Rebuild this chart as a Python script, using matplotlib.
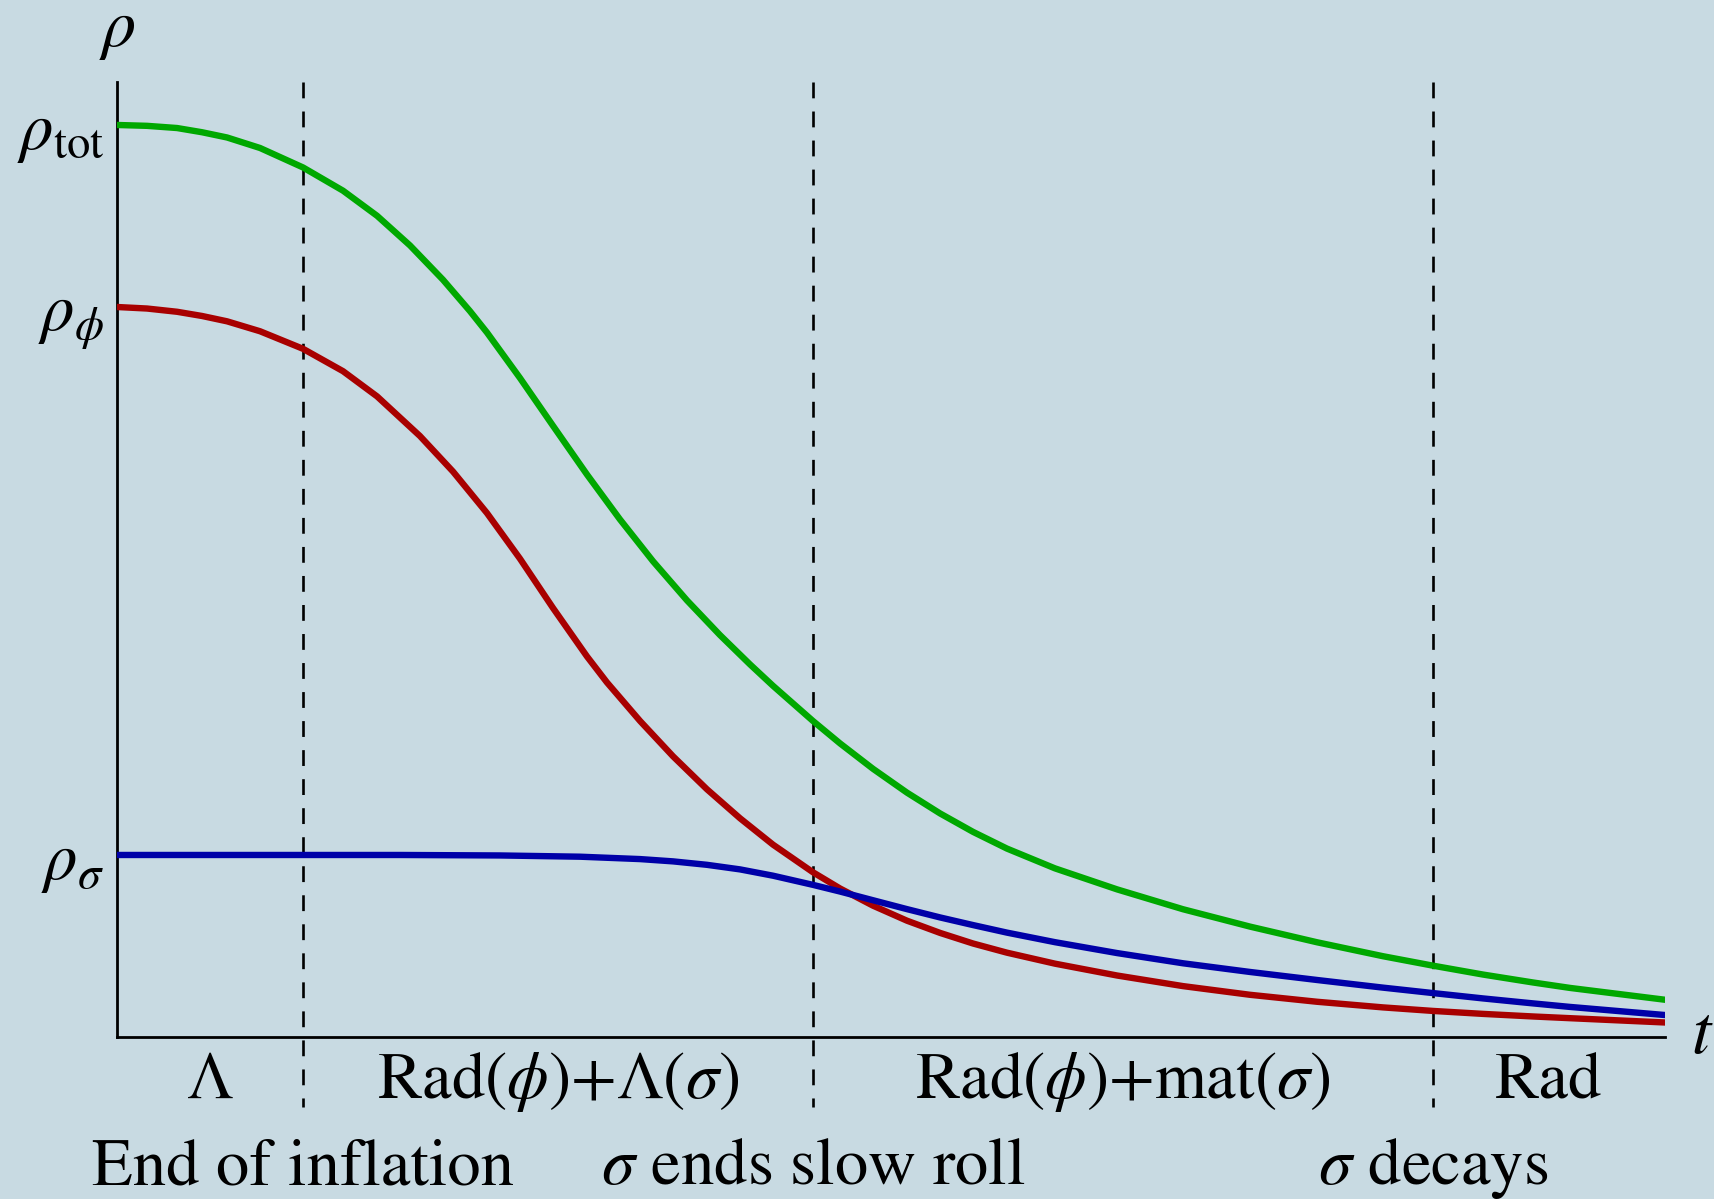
"""Schematic: energy densities through inflation, curvaton slow roll and decay."""

import matplotlib
matplotlib.use("Agg")
import matplotlib.pyplot as plt

plt.rcParams["font.family"] = ["STIXGeneral", "DejaVu Serif"]
plt.rcParams["mathtext.fontset"] = "stix"

# time axis in arbitrary units (axis runs 0..10), rho likewise 0..10
t_tot = [0.000, 0.194, 0.388, 0.549, 0.711, 0.924, 1.202, 1.460, 1.680, 1.893,
         2.106, 2.280, 2.390, 2.603, 2.817, 3.036, 3.249, 3.463, 3.682, 3.895,
         4.089, 4.238, 4.496, 4.671, 4.884, 5.103, 5.317, 5.530, 5.749, 6.059,
         6.460, 6.886, 7.319, 7.752, 8.178, 8.501, 8.824, 9.147, 9.386, 10.000]
rho_tot = [9.550, 9.541, 9.518, 9.474, 9.419, 9.309, 9.105, 8.862, 8.599, 8.288,
           7.929, 7.601, 7.377, 6.901, 6.399, 5.890, 5.420, 4.981, 4.572, 4.209,
           3.902, 3.677, 3.309, 3.074, 2.808, 2.559, 2.341, 2.148, 1.973, 1.766,
           1.546, 1.338, 1.156, 0.992, 0.846, 0.747, 0.654, 0.571, 0.514, 0.390]

t_phi = [0.000, 0.194, 0.388, 0.549, 0.711, 0.924, 1.202, 1.460, 1.680, 1.957,
         2.171, 2.390, 2.603, 2.817, 3.036, 3.165, 3.379, 3.592, 3.811, 4.025,
         4.238, 4.496, 4.671, 4.884, 5.103, 5.317, 5.530, 5.749, 6.059, 6.460,
         6.886, 7.319, 7.752, 8.178, 8.501, 8.824, 9.147, 9.386, 10.000]
rho_phi = [7.644, 7.628, 7.594, 7.550, 7.494, 7.390, 7.206, 6.972, 6.708, 6.293,
           5.920, 5.486, 5.009, 4.491, 3.985, 3.713, 3.309, 2.939, 2.594, 2.290,
           2.014, 1.725, 1.555, 1.375, 1.218, 1.090, 0.979, 0.883, 0.768, 0.644,
           0.533, 0.442, 0.369, 0.310, 0.273, 0.242, 0.215, 0.197, 0.152]

t_sigma = [0.000, 1.202, 1.828, 2.474, 2.991, 3.379, 3.592, 3.811, 4.025, 4.238,
           4.496, 4.671, 4.884, 5.103, 5.317, 5.530, 5.749, 6.059, 6.460, 6.886,
           7.319, 7.752, 8.178, 8.501, 8.824, 9.147, 9.386, 10.000]
rho_sigma = [1.906, 1.906, 1.906, 1.901, 1.888, 1.863, 1.839, 1.803, 1.755, 1.689,
             1.593, 1.523, 1.432, 1.339, 1.252, 1.172, 1.093, 0.993, 0.879, 0.772,
             0.681, 0.597, 0.517, 0.460, 0.404, 0.352, 0.315, 0.230]

# transitions: end of inflation, sigma ends slow roll, sigma decays
t_events = [1.202, 4.496, 8.501]
event_labels = ["End of inflation", r"$\sigma$ ends slow roll", r"$\sigma$ decays"]
era_labels = [r"$\Lambda$", r"Rad($\phi$)+$\Lambda$($\sigma$)",
              r"Rad($\phi$)+mat($\sigma$)", "Rad"]

BG = "#c8dae2"
W, H = 1715, 1199

fig = plt.figure(figsize=(W / 100, H / 100), dpi=100, facecolor=BG)
ax = fig.add_axes([117 / W, (H - 1037) / H, 1548 / W, 955 / H], facecolor=BG)
ax.set_xlim(0, 10)
ax.set_ylim(0, 10)
for side in ("top", "right"):
    ax.spines[side].set_visible(False)
for side in ("left", "bottom"):
    ax.spines[side].set_linewidth(2.0)
    ax.spines[side].set_color("black")
ax.set_xticks([])
ax.set_yticks([])

ax.plot(t_tot, rho_tot, color="#00a800", lw=4.6, solid_joinstyle="round", zorder=3)
ax.plot(t_phi, rho_phi, color="#a80000", lw=4.6, solid_joinstyle="round", zorder=3)
ax.plot(t_sigma, rho_sigma, color="#0000a8", lw=4.6, solid_joinstyle="round", zorder=4)

for te in t_events:
    ax.plot([te, te], [10, -0.733], color="black", lw=1.9, dashes=(6, 5),
            clip_on=False, zorder=2)

# left-hand labels at the initial value of each curve
for lab, series in [(r"$\rho_{\rm tot}$", rho_tot), (r"$\rho_\phi$", rho_phi),
                    (r"$\rho_\sigma$", rho_sigma)]:
    ax.annotate(lab, xy=(0, series[0]), xytext=(-9, -17), textcoords="offset points",
                ha="right", va="baseline", fontsize=48, annotation_clip=False)

ax.annotate(r"$\rho$", xy=(0, 10), xytext=(0, 26), textcoords="offset points",
            ha="center", va="baseline", fontsize=49, annotation_clip=False)
ax.annotate(r"$t$", xy=(10, 0), xytext=(19, -11.5), textcoords="offset points",
            ha="left", va="baseline", fontsize=50, annotation_clip=False)

edges = [0] + t_events + [10]
for i, lab in enumerate(era_labels):
    mid = 0.5 * (edges[i] + edges[i + 1])
    ax.annotate(lab, xy=(mid, 0), xytext=(0, -44), textcoords="offset points",
                ha="center", va="baseline", fontsize=48, annotation_clip=False)

for te, lab in zip(t_events, event_labels):
    ax.annotate(lab, xy=(te, 0), xytext=(0, -106), textcoords="offset points",
                ha="center", va="baseline", fontsize=48, annotation_clip=False)

fig.savefig("out.png", dpi=100, facecolor=BG)
